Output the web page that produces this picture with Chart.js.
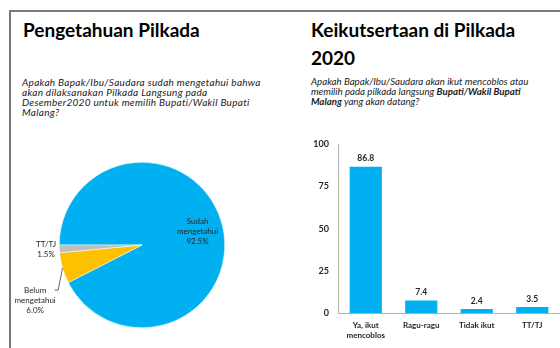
<!DOCTYPE html>
<html><head><meta charset="utf-8">
<script src="https://cdn.jsdelivr.net/npm/chart.js@4"></script>
<style>
html,body{margin:0;padding:0;background:#fff;width:560px;height:348px;overflow:hidden;font-family:Lato,"Open Sans",sans-serif;}
#frame{position:absolute;left:9px;top:10px;width:560px;height:400px;border-top:2px solid #7a7a7a;border-left:2px solid #7a7a7a;}
.title{position:absolute;font-weight:bold;font-size:19px;line-height:28px;color:#000;white-space:nowrap;}
.sub{position:absolute;font-style:italic;line-height:10.3px;color:#222;white-space:nowrap;}
canvas{position:absolute;}
</style></head>
<body>
<div id="frame"></div>
<div class="title" style="left:23px;top:16px;">Pengetahuan Pilkada</div>
<div class="sub" style="left:22px;top:76.5px;font-size:10px;letter-spacing:0.3px;">Apakah Bapak/Ibu/Saudara sudah mengetahui bahwa<br>akan dilaksanakan Pilkada Langsung pada<br>Desember2020 untuk memilih Bupati/Wakil Bupati<br>Malang?</div>
<div class="title" style="left:311px;top:16px;">Keikutsertaan di Pilkada<br>2020</div>
<div class="sub" style="left:311px;top:75.5px;font-size:9.7px;">Apakah Bapak/Ibu/Saudara akan ikut mencoblos atau<br>memilih pada pilkada langsung <b>Bupati/Wakil Bupati</b><br><b>Malang</b> yang akan datang?</div>
<canvas id="pie" width="264" height="208" style="left:10px;top:140px;"></canvas>
<canvas id="bar" width="270" height="218" style="left:290px;top:130px;"></canvas>
<script>
// ---- data ----
const pieCategories = ["Sudah mengetahui", "Belum mengetahui", "TT/TJ"];
const pieLabelLines = [["Sudah","mengetahui"],["Belum","mengetahui"],["TT/TJ"]];
const pieValues = [92.5, 6.0, 1.5];
const barCategories = [["Ya, ikut","mencoblos"], "Ragu-ragu", "Tidak ikut", "TT/TJ"];
const barValues = [86.8, 7.4, 2.4, 3.5];
const yTicks = [0, 25, 50, 75, 100];

const FONT = 'Lato, "Open Sans", sans-serif';
const TXT = '#262626';

const pieLabelPlugin = {
  id: 'pieLabels',
  afterDraw(chart) {
    const ctx = chart.ctx;
    const meta = chart.getDatasetMeta(0);
    ctx.save();
    ctx.font = '8px ' + FONT;
    ctx.fillStyle = TXT;
    ctx.textAlign = 'center';
    ctx.textBaseline = 'middle';
    meta.data.forEach((arc, i) => {
      const p = arc.getProps(['x','y','startAngle','endAngle','outerRadius'], true);
      const mid = (p.startAngle + p.endAngle) / 2;
      const R = p.outerRadius;
      const lines = pieLabelLines[i].concat([pieValues[i].toFixed(1) + '%']);
      let cx, cy;
      if (i === 0) {
        cx = p.x + Math.cos(mid) * R * 0.69;
        cy = p.y + Math.sin(mid) * R * 0.69;
      } else if (i === 2) {
        cx = p.x + Math.cos(mid) * R * 1.16;
        cy = p.y + Math.sin(mid) * R * 1.16;
      } else {
        const sx = p.x + Math.cos(mid) * R, sy = p.y + Math.sin(mid) * R;
        const ea = mid - 0.21, er = R * 1.15;
        const ex = p.x + Math.cos(ea) * er, ey = p.y + Math.sin(ea) * er;
        ctx.strokeStyle = '#404040';
        ctx.lineWidth = 0.8;
        ctx.beginPath();
        ctx.moveTo(sx, sy); ctx.lineTo(ex, ey); ctx.lineTo(ex - 3.5, ey);
        ctx.stroke();
        cx = ex - 23;
        cy = ey + 10;
      }
      const lh = 10;
      const y0 = cy - (lines.length - 1) * lh / 2;
      lines.forEach((t, k) => ctx.fillText(t, cx, y0 + k * lh));
    });
    ctx.restore();
  }
};

new Chart(document.getElementById('pie'), {
  type: 'pie',
  data: {
    labels: pieCategories,
    datasets: [{
      data: pieValues,
      backgroundColor: ['#00B0F0', '#FFC000', '#BFBFBF'],
      borderColor: '#ffffff',
      borderWidth: 0.5
    }]
  },
  options: {
    responsive: false,
    devicePixelRatio: 1,
    animation: false,
    rotation: 270,
    layout: { padding: { left: 49, right: 49, top: 22, bottom: 20 } },
    plugins: { legend: { display: false }, tooltip: { enabled: false } }
  },
  plugins: [pieLabelPlugin]
});

const barLabelPlugin = {
  id: 'barLabels',
  afterDatasetsDraw(chart) {
    const ctx = chart.ctx;
    const meta = chart.getDatasetMeta(0);
    ctx.save();
    ctx.font = 'bold 8.5px ' + FONT;
    ctx.fillStyle = TXT;
    ctx.textAlign = 'center';
    ctx.textBaseline = 'middle';
    meta.data.forEach((bar, i) => {
      ctx.fillText(barValues[i].toFixed(1), bar.x, bar.y - 8);
    });
    ctx.restore();
  }
};

new Chart(document.getElementById('bar'), {
  type: 'bar',
  data: {
    labels: barCategories,
    datasets: [{
      data: barValues,
      backgroundColor: '#00B0F0',
      barPercentage: 0.58,
      categoryPercentage: 1
    }]
  },
  options: {
    responsive: false,
    devicePixelRatio: 1,
    animation: false,
    layout: { padding: { top: 12, left: 0, right: 0, bottom: 0 } },
    plugins: { legend: { display: false }, tooltip: { enabled: false } },
    scales: {
      y: {
        min: yTicks[0], max: yTicks[yTicks.length - 1],
        afterBuildTicks(scale) { scale.ticks = yTicks.map(v => ({ value: v })); },
        afterFit(scale) { scale.width = 48; },
        grid: { display: false, drawTicks: false },
        border: { display: true, color: '#b0b0b0', width: 1 },
        ticks: { font: { family: FONT, size: 9, weight: 'bold' }, color: TXT, padding: 9 }
      },
      x: {
        afterFit(scale) { scale.height = 35; },
        grid: { display: false, drawTicks: false },
        border: { display: true, color: '#b0b0b0', width: 1 },
        ticks: { font: { family: FONT, size: 8, weight: 'bold' }, color: TXT, padding: 8, maxRotation: 0, autoSkip: false }
      }
    }
  },
  plugins: [barLabelPlugin]
});
</script>
</body></html>
